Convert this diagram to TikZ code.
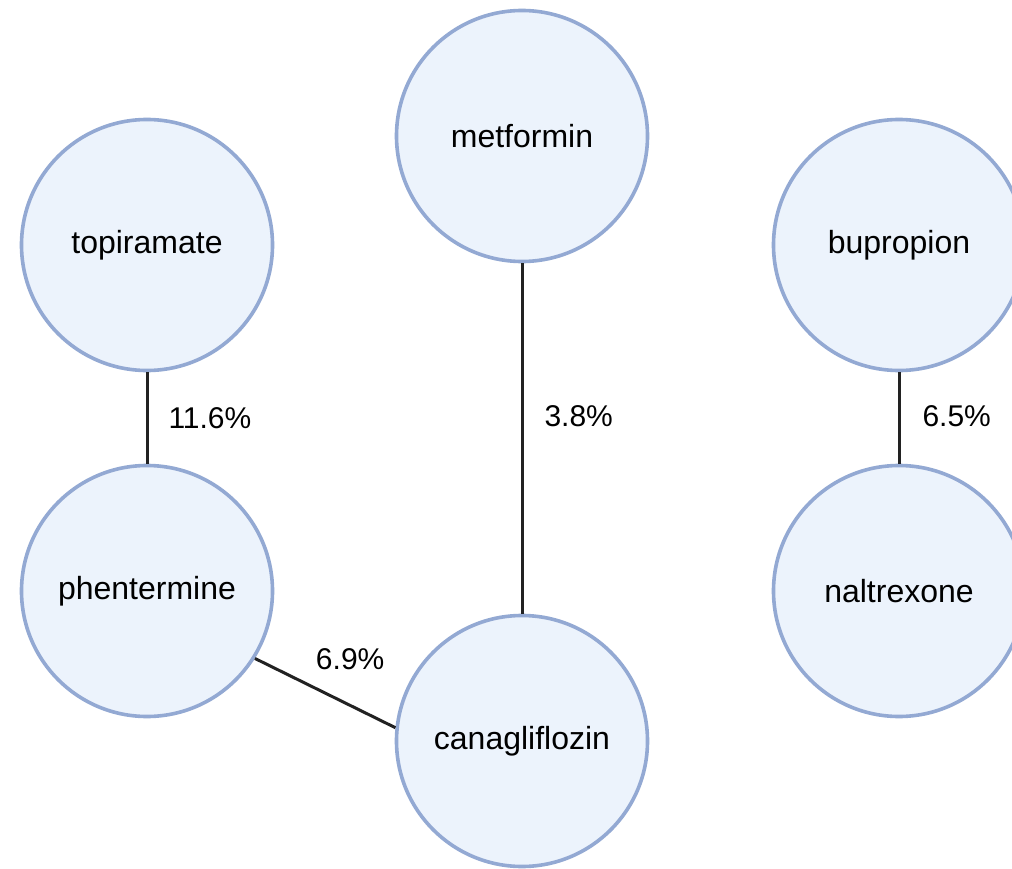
\documentclass[tikz,border=0pt]{standalone}
\usepackage{fontspec}
\setmainfont{Liberation Sans}
\definecolor{nodefill}{HTML}{ECF3FC}
\definecolor{nodeline}{HTML}{93A9D3}
\definecolor{edgecol}{HTML}{222222}
\begin{document}
\begin{tikzpicture}[x=1pt,y=-1pt,
  drug/.style={circle, draw=nodeline, fill=nodefill, line width=3.6pt, minimum size=251pt, inner sep=0pt, font=\fontsize{32}{36}\selectfont},
  link/.style={draw=edgecol, line width=3pt},
  pct/.style={font=\fontsize{30}{34}\selectfont, inner sep=0pt}]
\useasboundingbox (0,0) rectangle (1012,869);
\clip (0,0) rectangle (1012,869);
\fill[white] (0,0) rectangle (1012,869);
\node[drug] (topi) at (147,245) {topiramate};
\node[drug] (metf) at (522,136) {metformin};
\node[drug] (bupr) at (899,245) {bupropion};
\node[drug] (phen) at (147,591) {phentermine};
\node[drug] (nalt) at (899,591) {naltrexone};
\node[drug] (cana) at (522,741) {canagliflozin};
\draw[link] (topi) -- node[pct, midway, right, xshift=20pt] {11.6\%} (phen);
\draw[link] (metf) -- node[pct, midway, right, xshift=21pt, yshift=22pt] {3.8\%} (cana);
\draw[link] (bupr) -- node[pct, midway, right, xshift=22pt, yshift=2pt] {6.5\%} (nalt);
\draw[link] (phen.-32) -- node[pct, midway, xshift=25pt, yshift=34pt] {6.9\%} (cana.174);
\end{tikzpicture}
\end{document}
